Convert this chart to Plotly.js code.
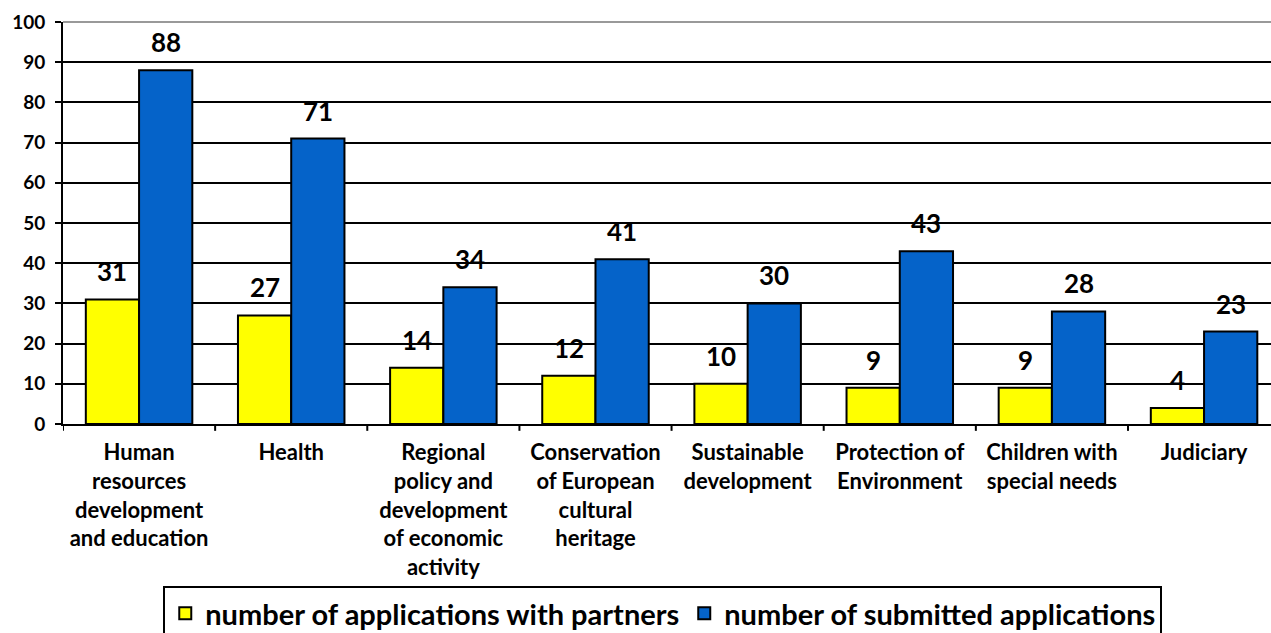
<!DOCTYPE html>
<html>
<head>
<meta charset="utf-8">
<script src="https://cdn.plot.ly/plotly-3.0.1.min.js"></script>
<style>html,body{margin:0;padding:0;background:#fff;}#chart{width:1271px;height:633px;}</style>
</head>
<body>
<div id="chart"></div>
<script>
const categories = [
  "Human<br>resources<br>development<br>and education",
  "Health",
  "Regional<br>policy and<br>development<br>of economic<br>activity",
  "Conservation<br>of European<br>cultural<br>heritage",
  "Sustainable<br>development",
  "Protection of<br>Environment",
  "Children with<br>special needs",
  "Judiciary"
];
const withPartners = [31, 27, 14, 12, 10, 9, 9, 4];
const submitted = [88, 71, 34, 41, 30, 43, 28, 23];
const seriesNames = ["number of applications with partners", "number of submitted applications"];
const yTicks = [0, 10, 20, 30, 40, 50, 60, 70, 80, 90, 100];

const FONT = "Lato, 'Open Sans', 'DejaVu Sans', sans-serif";
const idx = categories.map((c, i) => i);

const traces = [
  {type: 'bar', name: seriesNames[0], x: idx, y: withPartners,
   marker: {color: '#FFFF00', line: {color: '#000', width: 2}}},
  {type: 'bar', name: seriesNames[1], x: idx, y: submitted,
   marker: {color: '#0563C9', line: {color: '#000', width: 2}}}
];

const barOff = 0.175;
const annotations = [];
withPartners.forEach((v, i) => annotations.push({x: i - barOff, y: v, text: '<b>' + v + '</b>', showarrow: false, yshift: 28, xref: 'x', yref: 'y', font: {family: FONT, size: 26, color: '#000'}}));
submitted.forEach((v, i) => annotations.push({x: i + barOff, y: v, text: '<b>' + v + '</b>', showarrow: false, yshift: 28, xref: 'x', yref: 'y', font: {family: FONT, size: 26, color: '#000'}}));

const layout = {
  width: 1271, height: 633,
  margin: {l: 63, r: 0, t: 22, b: 209, autoexpand: false},
  paper_bgcolor: '#fff', plot_bgcolor: '#fff',
  barmode: 'group', bargap: 0.3, bargroupgap: 0,
  font: {family: FONT, color: '#000'},
  xaxis: {
    type: 'linear', range: [-0.5, 7.44], automargin: false,
    tickmode: 'array', tickvals: idx, ticktext: categories.map(c => '<b>' + c + '</b>'),
    showgrid: false, zeroline: false,
    showline: true, linecolor: '#000', linewidth: 2,
    ticks: '', tickfont: {family: FONT, size: 22, color: '#000'},
    ticklabelstandoff: 8
  },
  yaxis: {
    range: [0, 100], tickmode: 'array', tickvals: yTicks, automargin: false,
    ticktext: yTicks.map(t => '<b>' + t + '</b>'),
    showgrid: true, gridcolor: '#000', gridwidth: 2,
    zeroline: false, showline: true, linecolor: '#000', linewidth: 2,
    ticks: 'outside', ticklen: 6, tickwidth: 2, tickcolor: '#000',
    tickfont: {family: FONT, size: 19, color: '#000'},
    ticklabelstandoff: 6
  },
  showlegend: true,
  legend: {
    orientation: 'h', x: 0.083, xanchor: 'left', y: -0.403, yanchor: 'top',
    bordercolor: '#000', borderwidth: 2, bgcolor: '#fff',
    font: {family: FONT, size: 29, color: '#000', weight: 'bold'},
    itemwidth: 30, traceorder: 'normal'
  },
  annotations: annotations,
  shapes: [
    {type: 'line', xref: 'paper', yref: 'paper', x0: 0, x1: 1, y0: 1, y1: 1, line: {color: '#999', width: 2}}
  ]
};
// tick marks at category boundaries
for (let i = 0; i <= categories.length; i++) {
  layout.shapes.push({type: 'line', xref: 'x', yref: 'paper', x0: i - 0.5, x1: i - 0.5, y0: 0, y1: -0.017, line: {color: '#000', width: 2}});
}
Plotly.newPlot('chart', traces, layout, {displayModeBar: false, staticPlot: true});
</script>
</body>
</html>
